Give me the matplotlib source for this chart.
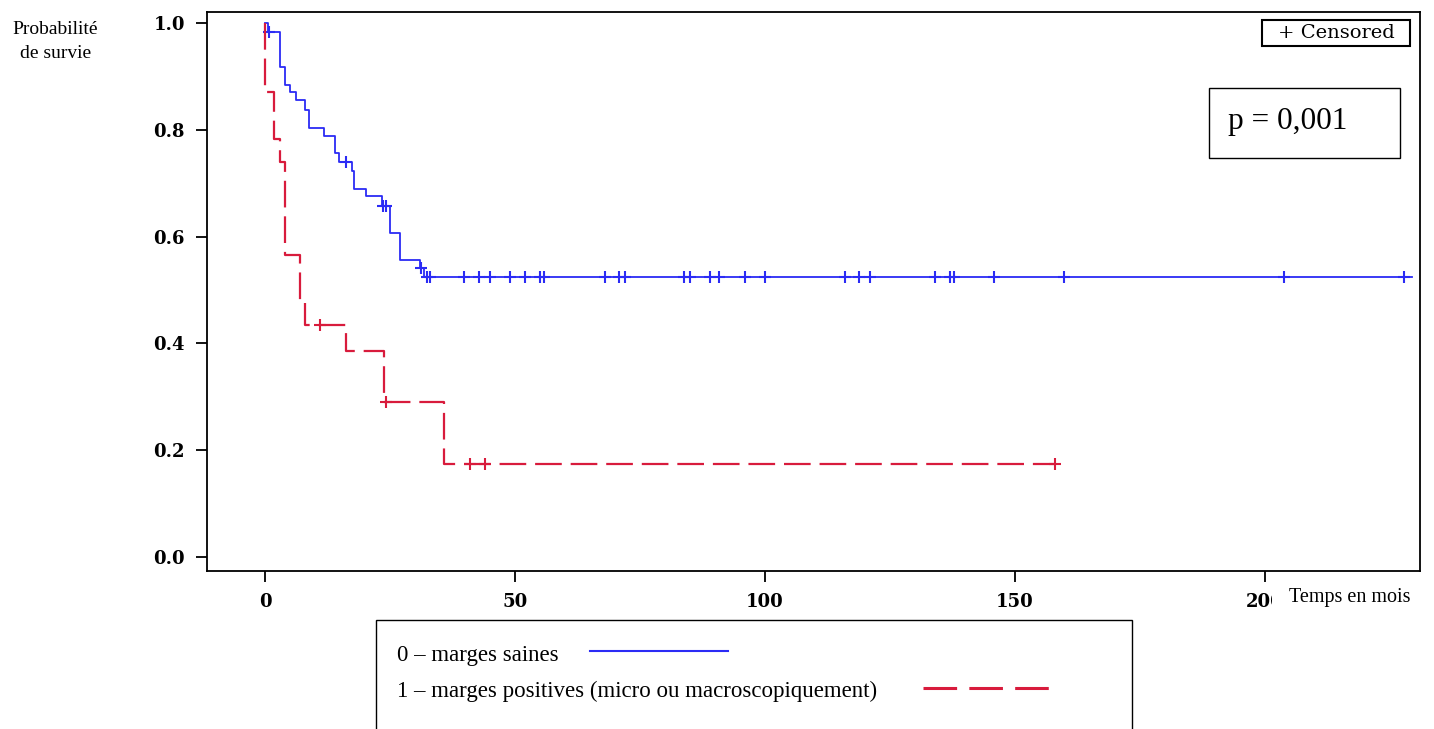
import numpy as np
import matplotlib
matplotlib.use("Agg")
import matplotlib.pyplot as plt
from matplotlib.patches import Rectangle
from matplotlib.lines import Line2D

# Kaplan-Meier steps (time in months, survival after the step)
blue_t = [0, 0.6, 3.0, 4.0, 4.9, 6.2, 7.9, 8.7, 11.8, 14.0, 14.7, 17.3, 17.8,
          20.1, 23.3, 25.0, 27.0, 31.0, 31.8, 229.3]
blue_s = [1.0, 0.984, 0.918, 0.884, 0.870, 0.855, 0.837, 0.804, 0.788, 0.756,
          0.740, 0.723, 0.690, 0.676, 0.657, 0.606, 0.556, 0.541, 0.524, 0.524]
blue_cens = [0.8, 16.1, 23.5, 24.2, 31.2, 32.3, 33.0, 39.7, 42.7, 44.9, 48.9,
             51.9, 55.0, 55.7, 68.0, 70.7, 72.0, 83.7, 85.0, 89.0, 90.7, 96.0,
             99.9, 116.0, 118.7, 120.9, 134.0, 136.9, 137.7, 145.7, 159.7,
             203.7, 227.8]

red_t = [0, 0, 1.7, 3.0, 4.0, 6.9, 7.9, 16.2, 23.8, 35.8, 158.0]
red_s = [1.0, 0.870, 0.783, 0.739, 0.565, 0.478, 0.435, 0.386, 0.290, 0.174, 0.174]
red_cens = [10.9, 24.1, 41.0, 44.0, 158.0]

x_ticks = [0, 50, 100, 150, 200]
y_ticks = [0.0, 0.2, 0.4, 0.6, 0.8, 1.0]

label_blue = "0 \u2013 marges saines"
label_red = "1 \u2013 marges positives (micro ou macroscopiquement)"

BLUE = "#2b2bf5"
RED = "#d81b3c"
SERIF = "Liberation Serif"


def level_at(times, surv, t):
    # survival value of a post-step curve at time t
    idx = np.searchsorted(times, t, side="right") - 1
    return np.asarray(surv)[idx]


fig = plt.figure(figsize=(14.34, 7.29), dpi=100)
ax = fig.add_axes([0.1444, 0.2167, 0.8459, 0.7668])

ax.step(blue_t, blue_s, where="post", color=BLUE, lw=1.3)
ax.plot(blue_cens, level_at(blue_t, blue_s, blue_cens), ls="none",
        marker="+", ms=8, mew=1.5, color=BLUE)

ax.step(red_t, red_s, where="post", color=RED, lw=1.6, dashes=(12, 4))
ax.plot(red_cens, level_at(red_t, red_s, red_cens), ls="none",
        marker="+", ms=8, mew=1.5, color=RED)

ax.set_xlim(-11.6, 231)
ax.set_ylim(-0.026, 1.0206)
ax.set_xticks(x_ticks)
ax.set_yticks(y_ticks)
ax.set_xticklabels([str(v) for v in x_ticks])
ax.set_yticklabels([f"{v:.1f}" for v in y_ticks])
ax.tick_params(direction="out", length=8, width=1.3, pad=8)
for lab in ax.get_xticklabels() + ax.get_yticklabels():
    lab.set_fontfamily("DejaVu Serif")
    lab.set_fontweight("bold")
    lab.set_fontsize(13)
for sp in ax.spines.values():
    sp.set_linewidth(1.3)

# axis titles placed like the original
fig.text(0.0384, 0.943, "Probabilit\u00e9\nde survie", ha="center", va="center",
         family=SERIF, fontsize=14, linespacing=1.5)
fig.text(0.8989, 0.1797, "Temps en mois", ha="left", va="center",
         family=SERIF, fontsize=14.5,
         bbox=dict(facecolor="white", edgecolor="none", pad=12))

# "+ Censored" box
fig.add_artist(Rectangle((0.880, 0.9369), 0.1033, 0.0357, transform=fig.transFigure,
                         facecolor="white", edgecolor="black", lw=1.5))
fig.text(0.9317, 0.9547, "+ Censored", ha="center", va="center",
         family="DejaVu Serif", fontsize=14)

# p-value box
fig.add_artist(Rectangle((0.8431, 0.7833), 0.1332, 0.096, transform=fig.transFigure,
                         facecolor="white", edgecolor="black", lw=1.0))
fig.text(0.8563, 0.834, "p = 0,001", ha="left", va="center",
         family=SERIF, fontsize=22.5)

# legend box at the bottom (open below the picture)
fig.add_artist(Rectangle((0.2622, -0.05), 0.5272, 0.1995, transform=fig.transFigure,
                         facecolor="white", edgecolor="black", lw=1.0))
fig.text(0.2768, 0.1015, label_blue, ha="left", va="center", family=SERIF, fontsize=16.5)
fig.text(0.2768, 0.0521, label_red, ha="left", va="center", family=SERIF, fontsize=16.5)
fig.add_artist(Line2D([0.4114, 0.5077], [0.1070, 0.1070], transform=fig.transFigure,
                      color=BLUE, lw=1.5))
fig.add_artist(Line2D([0.6437, 0.7336], [0.0562, 0.0562], transform=fig.transFigure,
                      color=RED, lw=2.2, dashes=(11, 4)))

fig.savefig("out.png", dpi=100)
